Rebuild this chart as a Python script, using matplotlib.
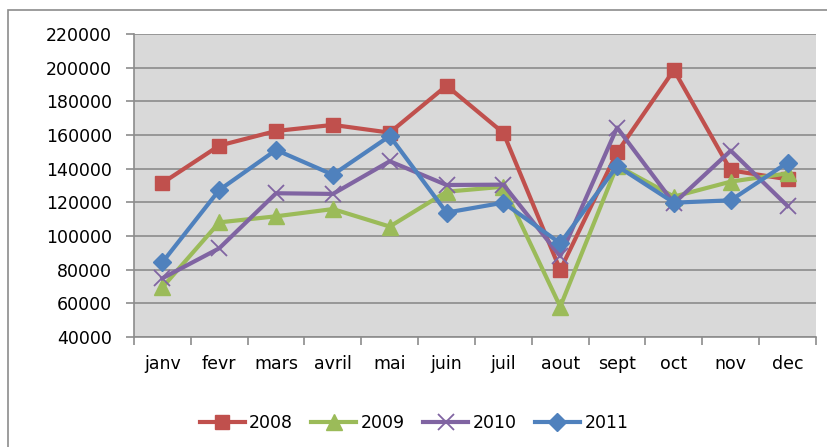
import numpy as np
import matplotlib.pyplot as plt
from matplotlib.patches import Rectangle

# Données
mois = ['janv', 'fevr', 'mars', 'avril', 'mai', 'juin', 'juil', 'aout', 'sept', 'oct', 'nov', 'dec']
v2008 = [131500, 153700, 162400, 166000, 161400, 189300, 161200, 79800, 149700, 198600, 139000, 133700]
v2009 = [69500, 108100, 111700, 116000, 105600, 126300, 129300, 58000, 141800, 123400, 132300, 137200]
v2010 = [74900, 92700, 125400, 125000, 144400, 130300, 130500, 88000, 164400, 119400, 150700, 117800]
v2011 = [84400, 127300, 151100, 136400, 159400, 113900, 119800, 95700, 141600, 119800, 121200, 143600]
annees = ['2008', '2009', '2010', '2011']
yticks = np.arange(40000, 220001, 20000)

plt.rcParams['font.family'] = ['DejaVu Sans']

fig = plt.figure(figsize=(8.28, 4.47), dpi=100)
# cadre du graphique
fig.patches.append(Rectangle((8 / 828, -0.1), 1.0, 1 - 10 / 447 + 0.1, transform=fig.transFigure,
                             fill=False, edgecolor='#8c8c8c', linewidth=1.2))

ax = fig.add_axes([134 / 828, 1 - 337 / 447, (816 - 134) / 828, (337 - 34) / 447])
ax.set_facecolor('#D9D9D9')

x = np.arange(len(mois))
styles = [
    (v2008, '#C0504D', 's', 10.5),
    (v2009, '#9BBB59', '^', 11.5),
    (v2010, '#8064A2', 'x', 11),
    (v2011, '#4F81BD', 'D', 9),
]
for (vals, col, mk, ms), lab in zip(styles, annees):
    if mk == 'x':
        ax.plot(x, vals, color=col, linewidth=3, marker=mk, markersize=ms,
                markeredgewidth=1.3, label=lab, clip_on=False)
    else:
        ax.plot(x, vals, color=col, linewidth=3, marker=mk, markersize=ms,
                markeredgecolor=col, label=lab, clip_on=False)

ax.set_xlim(-0.5, 11.5)
ax.set_ylim(40000, 220000)
ax.set_yticks(yticks)
ax.set_yticklabels([str(v) for v in yticks], fontsize=12.5)
ax.set_xticks(x)
ax.set_xticklabels(mois, fontsize=12.5)
ax.set_xticks(np.arange(-0.5, 12, 1), minor=True)
ax.tick_params(axis='x', which='major', length=0, pad=13)
ax.tick_params(axis='x', which='minor', length=6, color='#8c8c8c', width=1.2)
ax.tick_params(axis='y', length=6, color='#8c8c8c', width=1.2, pad=10)
ax.yaxis.grid(True, color='#8c8c8c', linewidth=1.2)
ax.set_axisbelow(True)
for s in ['top', 'right']:
    ax.spines[s].set_visible(False)
for s in ['left', 'bottom']:
    ax.spines[s].set_color('#8c8c8c')
    ax.spines[s].set_linewidth(1.2)

fig.legend(loc='center', bbox_to_anchor=(414 / 828, 1 - 423 / 447), ncol=4, frameon=False,
           fontsize=12.5, handlelength=2.6, columnspacing=1.05, handletextpad=0.25)

fig.savefig('out.png', dpi=100)
